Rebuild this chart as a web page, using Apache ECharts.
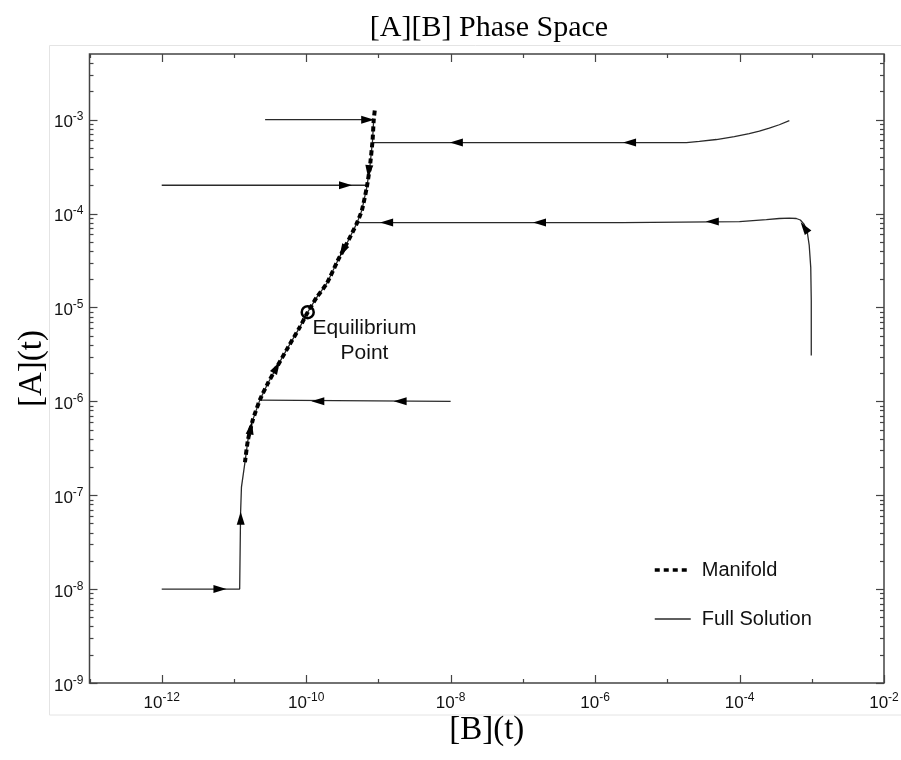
<!DOCTYPE html>
<html><head><meta charset="utf-8">
<script src="https://cdn.jsdelivr.net/npm/echarts@6/dist/echarts.min.js"></script>
<style>html,body{margin:0;padding:0;background:#fff}#c{width:901px;height:760px}</style>
</head><body><div id="c"></div>
<script>
// ---- axis ranges and ticks ----
const xRange = [1e-13, 1e-2];
const yRange = [1e-9, 5e-3];
const xMajorExps = [-12, -10, -8, -6, -4, -2];
const xMinorExps = [-13, -11, -9, -7, -5, -3];
const yMajorExps = [-9, -8, -7, -6, -5, -4, -3];
const yMinorMults = [2, 3, 4, 5, 6, 7, 8, 9];

// ---- manifold (slow manifold, top -> bottom) ----
const manifoldB = [8.9e-10, 8.6e-10, 8.3e-10, 7.6e-10, 6.9e-10, 5.9e-10, 5.0e-10, 3.65e-10, 2.74e-10, 1.93e-10, 1.4e-10, 1.05e-10, 8.1e-11, 5.6e-11, 3.9e-11, 2.94e-11, 2.28e-11, 1.82e-11, 1.56e-11, 1.42e-11];
const manifoldA = [1.25e-3, 9.75e-4, 6.0e-4, 3.1e-4, 1.9e-4, 1.08e-4, 7.8e-5, 4.8e-5, 3.16e-5, 1.8e-5, 1.28e-5, 8.9e-6, 6.1e-6, 3.75e-6, 2.3e-6, 1.55e-6, 1.03e-6, 6.3e-7, 3.85e-7, 2.24e-7];

// ---- full solution trajectories ----
const traj1B = [1e-12, 1.2e-11, 1.21e-11, 1.235e-11, 1.27e-11];
const traj1A = [1e-8, 1.0e-8, 1.02e-8, 6.4e-8, 1.22e-7];
const traj2B = [1e-8, 2.28e-11];
const traj2A = [1e-6, 1.03e-6];
const traj3B = [2.7e-11, 8.6e-10];
const traj3A = [1e-3, 1e-3];
const traj4B = [1e-12, 6.8e-10];
const traj4A = [2e-4, 2e-4];
const traj5B = [4.89e-4, 3.55e-4, 2.58e-4, 1.88e-4, 1.36e-4, 8.47e-5, 4.78e-5, 2.78e-5, 1.84e-5, 8.3e-10];
const traj5A = [9.76e-4, 8.82e-4, 8.1e-4, 7.53e-4, 7.1e-4, 6.58e-4, 6.14e-4, 5.86e-4, 5.69e-4, 5.69e-4];
const traj6B = [9.84e-4, 9.84e-4, 9.68e-4, 9.22e-4, 8.68e-4, 7.87e-4, 6.94e-4, 6.11e-4, 4.89e-4, 3.55e-4, 2.35e-4, 1e-4, 2.4e-6, 5e-10];
const traj6A = [3.08e-6, 1.19e-5, 2.67e-5, 4.57e-5, 6.28e-5, 7.64e-5, 8.53e-5, 8.85e-5, 8.92e-5, 8.85e-5, 8.6e-5, 8.2e-5, 8.0e-5, 8.0e-5];

// ---- direction arrows: B, A, heading (deg, ccw from up) ----
const arrowB = [6.4e-12, 1.24e-11, 1.71e-11, 3.9e-11, 2e-9, 1.45e-10, 7.1e-10, 7.35e-10, 3.5e-10, 3.2e-10, 1.3e-9, 1.7e-7, 4.2e-5, 7.9e-4, 1.2e-8, 3.0e-6];
const arrowA = [1e-8, 5.7e-8, 5.2e-7, 2.3e-6, 1e-6, 1e-6, 1e-3, 2.8e-4, 2e-4, 4.0e-5, 8e-5, 8e-5, 8.2e-5, 7.1e-5, 5.69e-4, 5.69e-4];
const arrowDir = [-90, 0, -10, -29, 90, 90, -90, 175, -90, 152, 90, 90, 90, 35, 90, 90];

// ---- equilibrium point ----
const equilibriumB = [1.05e-10];
const equilibriumA = [8.9e-6];

const zip = (b, a) => b.map((v, i) => [v, a[i]]);
const manifold = zip(manifoldB, manifoldA);
const traj1 = zip(traj1B, traj1A).concat(manifold.slice(11).reverse());
const traj3 = zip(traj3B, traj3A).concat(manifold.slice(1, 12));

const tickData = [];
xMajorExps.forEach(e => tickData.push([Math.pow(10, e), yRange[0], 8, 0]));
xMinorExps.forEach(e => tickData.push([Math.pow(10, e), yRange[0], 4, 0]));
yMajorExps.forEach(e => {
  tickData.push([xRange[0], Math.pow(10, e), 8, 1]);
  yMinorMults.forEach(m => { const v = m * Math.pow(10, e); if (v < yRange[1] * 0.999) tickData.push([xRange[0], v, 4, 1]); });
});

const SANS = 'Liberation Sans, Arial, sans-serif';
const SERIF = 'Liberation Serif, Times New Roman, serif';
const supRich = {
  b: { fontSize: 17, lineHeight: 17, padding: [6, 0, 0, 0], color: '#111', fontFamily: SANS },
  s: { fontSize: 12, lineHeight: 12, verticalAlign: 'top', color: '#111', fontFamily: SANS }
};
const expFmt = (keepOdd) => (v) => {
  if (Math.abs(v - Math.round(v)) > 1e-6) return '';
  const n = Math.round(v);
  if (!keepOdd && n % 2 !== 0) return '';
  return '{b|10}{s|' + n + '}';
};

const solid = { color: '#2a2a2a', width: 1.3 };
function traj(data) {
  return { type: 'line', name: 'Full Solution', data, symbol: 'none',
    lineStyle: solid, itemStyle: { color: '#2a2a2a' }, z: 2, silent: true, animation: false };
}

const chart = echarts.init(document.getElementById('c'), null, { renderer: 'canvas' });
chart.setOption({
  backgroundColor: '#fff',
  animation: false,
  title: {
    text: '[A][B] Phase Space', left: 484, top: 8, textAlign: 'center',
    textStyle: { fontFamily: SERIF, fontSize: 30, fontWeight: 'normal', color: '#000' }
  },
  grid: { left: 89.5, right: 17, top: 54, bottom: 77, show: true, borderColor: '#444', borderWidth: 1.5, outerBoundsMode: 'none' },
  graphic: [{ type: 'rect', shape: { x: 49.5, y: 45.5, width: 900, height: 669.5 }, style: { fill: 'none', stroke: '#e4e4e4', lineWidth: 1 }, silent: true, z: -10 }],
  legend: {
    left: 648, top: 555, orient: 'vertical', itemWidth: 36, itemHeight: 14, itemGap: 29,
    data: [
      { name: 'Manifold', lineStyle: { width: 3.5, type: [5, 4], cap: 'butt' } },
      { name: 'Full Solution', lineStyle: { width: 1.3 } }
    ],
    selectedMode: false,
    itemStyle: { color: 'rgba(0,0,0,0)', borderWidth: 0, opacity: 0 },
    textStyle: { fontSize: 20, fontFamily: SANS, color: '#111', padding: [0, 0, 0, 6] }
  },
  xAxis: [
    { type: 'log', logBase: 10, min: xRange[0], max: xRange[1], show: false, position: 'top' },
    {
      type: 'value', min: -13, max: -2, interval: 1, position: 'bottom',
      axisLine: { show: false }, axisTick: { show: false }, splitLine: { show: false },
      axisLabel: { formatter: expFmt(false), rich: supRich, margin: 9 },
      name: '[B](t)', nameLocation: 'middle', nameGap: 31, nameMoveOverlap: false,
      nameTextStyle: { fontFamily: SERIF, fontSize: 33, color: '#000' }
    }
  ],
  yAxis: [
    { type: 'log', logBase: 10, min: yRange[0], max: yRange[1], show: false, position: 'right' },
    {
      type: 'value', min: -9, max: Math.log10(yRange[1]), interval: 1, position: 'left',
      axisLine: { show: false }, axisTick: { show: false }, splitLine: { show: false },
      axisLabel: { formatter: expFmt(true), rich: supRich, margin: 6, showMaxLabel: false },
      name: '[A](t)', nameLocation: 'middle', nameGap: 41, nameRotate: 90, nameMoveOverlap: false,
      nameTextStyle: { fontFamily: SERIF, fontSize: 33, color: '#000' }
    }
  ],
  series: [
    {
      type: 'custom', name: 'ticks', xAxisIndex: 0, yAxisIndex: 0, data: tickData, silent: true, z: 5, clip: false,
      renderItem: function (params, api) {
        const cs = params.coordSys;
        const p = api.coord([api.value(0), api.value(1)]);
        const len = api.value(2);
        const style = { stroke: '#444', lineWidth: 1.2 };
        if (api.value(3) === 0) {
          const x = Math.round(p[0]) + 0.5;
          return { type: 'group', children: [
            { type: 'line', shape: { x1: x, y1: cs.y + cs.height, x2: x, y2: cs.y + cs.height - len }, style },
            { type: 'line', shape: { x1: x, y1: cs.y, x2: x, y2: cs.y + len }, style }
          ] };
        }
        const y = Math.round(p[1]) + 0.5;
        return { type: 'group', children: [
          { type: 'line', shape: { x1: cs.x, y1: y, x2: cs.x + len, y2: y }, style },
          { type: 'line', shape: { x1: cs.x + cs.width, y1: y, x2: cs.x + cs.width - len, y2: y }, style }
        ] };
      }
    },
    traj(traj1),
    traj(zip(traj2B, traj2A)),
    traj(traj3),
    traj(zip(traj4B, traj4A)),
    traj(zip(traj5B, traj5A)),
    traj(zip(traj6B, traj6A)),
    {
      type: 'line', name: 'Manifold', data: manifold, symbol: 'none', smooth: 0.2, silent: true, z: 3,
      lineStyle: { color: '#000', width: 4, type: [5, 3], cap: 'butt' }, itemStyle: { color: '#000' }
    },
    {
      type: 'scatter', name: 'arrows', silent: true, z: 4,
      data: arrowB.map((b, i) => ({ value: [b, arrowA[i]], symbolRotate: arrowDir[i] })),
      symbol: 'triangle', symbolSize: [8, 13], itemStyle: { color: '#000', opacity: 1 }
    },
    {
      type: 'scatter', name: 'Equilibrium', silent: true, z: 6,
      data: zip(equilibriumB, equilibriumA), symbol: 'circle', symbolSize: 12,
      itemStyle: { color: 'rgba(0,0,0,0)', borderColor: '#000', borderWidth: 2.5, opacity: 1 },
      label: {
        show: true, formatter: 'Equilibrium\nPoint', position: [64, 11], align: 'center', verticalAlign: 'top',
        fontSize: 21, lineHeight: 25, fontFamily: SANS, color: '#111'
      }
    }
  ]
});
</script>
</body></html>
